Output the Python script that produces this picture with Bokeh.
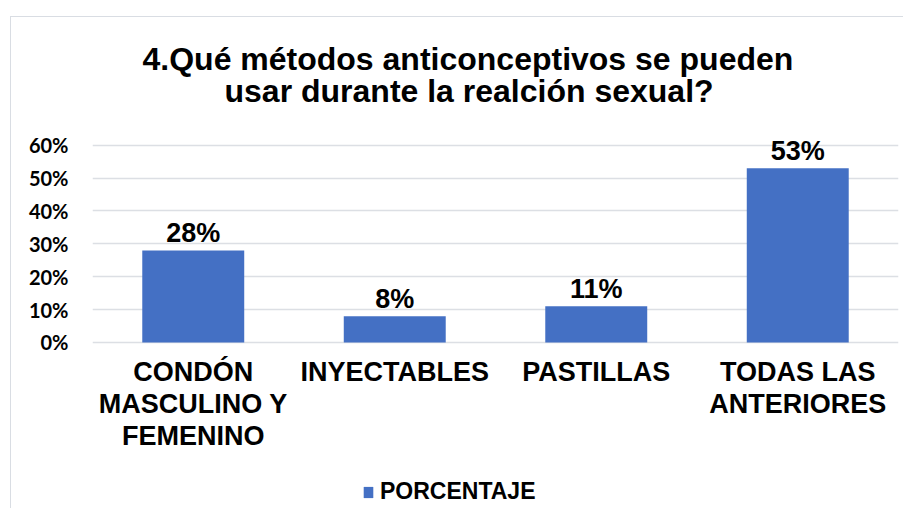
from bokeh.plotting import figure
from bokeh.models import (Range1d, FixedTicker, NumeralTickFormatter, ColumnDataSource,
                          Legend, LegendItem, Title)
from bokeh.core.properties import value
from bokeh.embed import file_html
from bokeh.resources import INLINE

# ---- data ----
categories = ["CONDÓN\nMASCULINO Y\nFEMENINO", "INYECTABLES", "PASTILLAS", "TODAS LAS\nANTERIORES"]
percentages = [0.28, 0.08, 0.11, 0.53]
value_labels = ["28%", "8%", "11%", "53%"]
y_ticks = [0, 0.1, 0.2, 0.3, 0.4, 0.5, 0.6]
series_name = "PORCENTAJE"
title_line1 = "4.Qué métodos anticonceptivos se pueden"
title_line2 = "usar durante la realción sexual?"

source = ColumnDataSource(dict(cat=categories, val=percentages, lab=value_labels))

# frame reaches the bottom of the canvas; the category axis sits at y = 0
p = figure(x_range=categories, y_range=Range1d(-0.508, 0.66),
           width=893, height=492, output_backend="svg", toolbar_location=None,
           min_border_left=81, min_border_right=6, min_border_top=108, min_border_bottom=0)
p.margin = (16, 0, 0, 10)
p.styles = {"border-left": "1px solid #d9dde3", "border-top": "1px solid #d9dde3"}
p.outline_line_color = None
p.background_fill_color = "white"
p.border_fill_color = "white"

# title (two centred lines)
for txt, off, sto in ((title_line2, 132, 33), (title_line1, 50, -44)):
    t = Title(text=txt, align="left", offset=off, standoff=sto,
              text_font="Liberation Sans", text_font_size="32px",
              text_font_style="bold", text_color="#000000")
    p.add_layout(t, "above")

bars = p.vbar(x="cat", top="val", width=0.506, source=source,
              fill_color="#4470c4", line_color=None)

p.text(x="cat", y="val", text="lab", source=source,
       text_font=value("Liberation Sans"), text_font_size="27px", text_font_style="bold",
       text_color="#000000", text_align="center", text_baseline="alphabetic", y_offset=-17)

# axes
p.yaxis.ticker = FixedTicker(ticks=y_ticks)
p.yaxis.formatter = NumeralTickFormatter(format="0%")
p.yaxis.axis_line_color = None
p.yaxis.major_tick_line_color = None
p.yaxis.minor_tick_line_color = None
p.yaxis.major_label_text_font = "Lato"
p.yaxis.major_label_text_font_size = "20px"
p.yaxis.major_label_text_font_style = "bold"
p.yaxis.major_label_text_color = "#000000"
p.yaxis.major_label_standoff = 18

p.xaxis.fixed_location = 0
p.xaxis.axis_line_color = None
p.xaxis.major_tick_line_color = None
p.xaxis.minor_tick_line_color = None
p.xaxis.major_label_text_font = "Liberation Sans"
p.xaxis.major_label_text_font_size = "27px"
p.xaxis.major_label_text_font_style = "bold"
p.xaxis.major_label_text_color = "#000000"
p.xaxis.major_label_standoff = 9
p.xaxis.major_label_text_line_height = 1.06

p.xgrid.grid_line_color = None
p.ygrid.grid_line_color = "#dcdfe4"
p.ygrid.grid_line_width = 1.5

legend = Legend(items=[LegendItem(label=series_name, renderers=[bars])],
                location=(270, 4), orientation="horizontal",
                label_text_font="Liberation Sans", label_text_font_size="23px",
                label_text_font_style="bold", label_text_color="#000000",
                glyph_width=12, glyph_height=14, label_standoff=6,
                padding=0, margin=0, border_line_color=None, background_fill_alpha=0)
p.add_layout(legend)

open("out.html", "w").write(file_html(p, INLINE))
